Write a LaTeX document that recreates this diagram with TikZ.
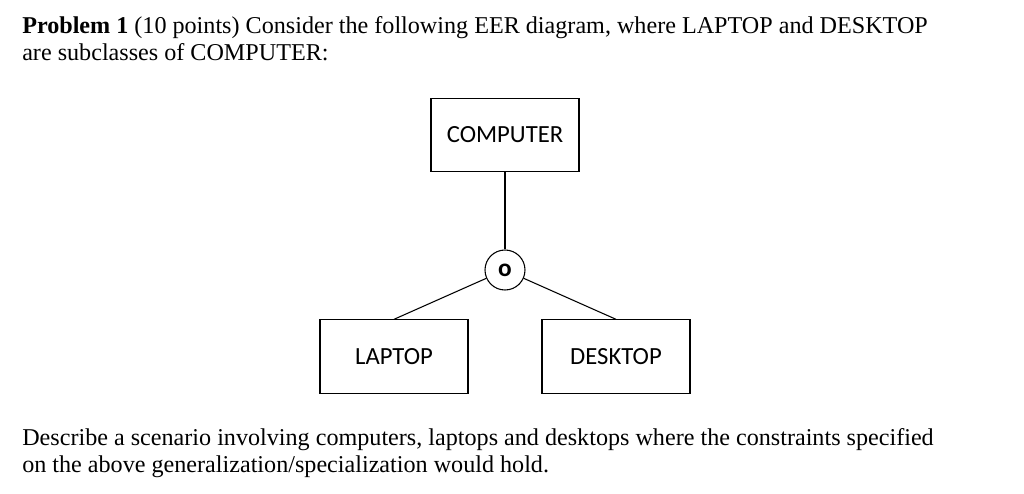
\documentclass[tikz,border=0pt]{standalone}
\usepackage{fontspec}
\setmainfont{Liberation Serif}
\newfontfamily\boxfont{Carlito}
\begin{document}
\begin{tikzpicture}[x=0.75pt,y=-0.75pt,
  ent/.style={draw,line width=0.8pt,minimum width=111pt,minimum height=55pt,font=\boxfont\fontsize{18.5}{22}\selectfont},
  txt/.style={anchor=base west,inner sep=0,font=\fontsize{18.1}{22}\selectfont}]
\useasboundingbox (0,0) rectangle (1024,493);
\node[txt] (t1) at (22,33) {\textbf{Problem 1} (10 points) Consider the following EER diagram, where LAPTOP and DESKTOP};
\node[txt] (t2) at (22,60) {are subclasses of COMPUTER:};
\node[ent] (comp) at (505,135) {COMPUTER};
\node[draw,circle,line width=0.8pt,minimum size=30pt,inner sep=0,font=\boxfont\bfseries\fontsize{19}{22}\selectfont] (o) at (505,270) {o};
\node[ent] (lap) at (394,356.5) {LAPTOP};
\node[ent] (desk) at (616,356.5) {DESKTOP};
\draw[line width=0.8pt] (comp) -- (o);
\draw[line width=0.8pt] (o) -- (lap.north);
\draw[line width=0.8pt] (o) -- (desk.north);
\node[txt] (b1) at (22,445) {Describe a scenario involving computers, laptops and desktops where the constraints specified};
\node[txt] (b2) at (22,472) {on the above generalization/specialization would hold.};
\end{tikzpicture}
\end{document}
